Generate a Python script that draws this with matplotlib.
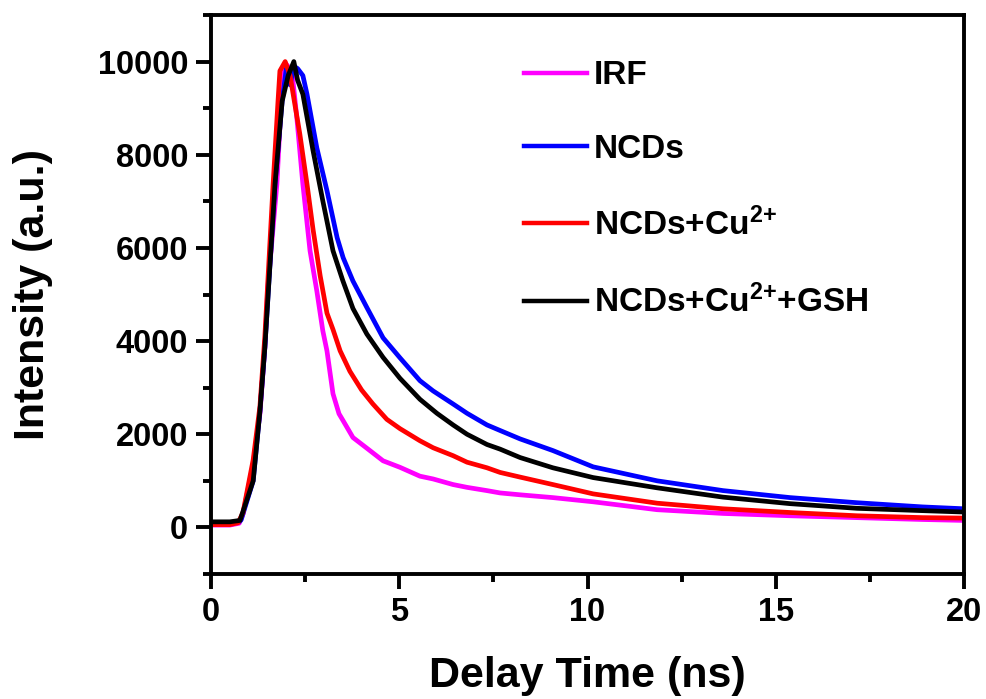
import numpy as np
import matplotlib
matplotlib.use("Agg")
import matplotlib.pyplot as plt
from matplotlib.ticker import MultipleLocator

plt.rcParams["font.family"] = ["Liberation Sans", "DejaVu Sans"]
plt.rcParams["font.weight"] = "bold"
plt.rcParams["mathtext.fontset"] = "custom"
plt.rcParams["mathtext.rm"] = "Liberation Sans:bold"
plt.rcParams["mathtext.it"] = "Liberation Sans:bold"
plt.rcParams["mathtext.bf"] = "Liberation Sans:bold"

# (delay time in ns, intensity in a.u.)
irf_t = [0.0, 0.5, 0.75, 0.85, 1.12, 1.30, 1.43, 1.51, 1.75, 1.89, 1.97, 2.15,
         2.28, 2.44, 2.63, 2.81, 2.97, 3.08, 3.24, 3.40, 3.51, 3.77, 4.14,
         4.57, 5.02, 5.55, 5.90, 6.43, 6.80, 7.33, 7.68, 8.21, 9.08, 10.15,
         11.85, 13.6, 15.38, 17.16, 18.9, 20.0]
irf_y = [50, 50, 90, 290, 1360, 2440, 3860, 5150, 7370, 9520, 9970, 9800,
         8790, 7370, 5940, 5080, 4220, 3790, 2870, 2440, 2290, 1930, 1700,
         1430, 1290, 1100, 1040, 920, 860, 790, 740, 700, 640, 550,
         380, 300, 250, 210, 170, 150]

ncd_t = [0.0, 0.5, 0.75, 0.80, 1.12, 1.30, 1.43, 1.54, 1.70, 1.89, 2.00, 2.10,
         2.20, 2.30, 2.44, 2.55, 2.81, 3.08, 3.35, 3.51, 3.77, 4.14, 4.57,
         5.02, 5.55, 5.90, 6.43, 6.80, 7.33, 7.68, 8.21, 9.08, 10.15, 11.85,
         13.6, 15.38, 17.16, 18.9, 20.0]
ncd_y = [100, 100, 120, 160, 1000, 2500, 3860, 5300, 7370, 9150, 9850, 9500,
         9900, 9850, 9700, 9300, 8150, 7230, 6220, 5790, 5290, 4720, 4070,
         3640, 3150, 2930, 2650, 2450, 2200, 2080, 1900, 1650, 1300, 1000,
         790, 640, 530, 440, 400]

cu_t = [0.0, 0.5, 0.72, 0.85, 1.12, 1.30, 1.43, 1.65, 1.78, 1.83, 1.97, 2.10,
        2.36, 2.55, 2.71, 2.90, 3.08, 3.24, 3.43, 3.69, 4.00, 4.30, 4.67, 5.02,
        5.55, 5.90, 6.43, 6.80, 7.33, 7.68, 8.21, 9.08, 10.15, 11.85, 13.6,
        15.38, 17.16, 18.9, 20.0]
cu_y = [60, 60, 100, 320, 1450, 2600, 4100, 7370, 9150, 9800, 10000, 9700,
        8440, 7370, 6400, 5400, 4600, 4250, 3790, 3350, 2950, 2650, 2320, 2120,
        1860, 1710, 1540, 1400, 1280, 1180, 1080, 920, 720, 520, 400,
        320, 250, 210, 200]

gsh_t = [0.0, 0.5, 0.77, 1.12, 1.30, 1.43, 1.54, 1.70, 1.89, 2.05, 2.20, 2.30,
         2.44, 2.71, 2.97, 3.24, 3.50, 3.77, 4.14, 4.57, 5.02, 5.55, 6.00,
         6.43, 6.80, 7.33, 7.68, 8.21, 9.08, 10.15, 11.85, 13.6, 15.38, 17.16,
         18.9, 20.0]
gsh_y = [120, 120, 150, 1000, 2500, 3860, 5300, 7370, 9150, 9700, 10000, 9600,
         9300, 8090, 7010, 5940, 5300, 4700, 4150, 3650, 3200, 2750, 2450,
         2200, 2000, 1780, 1680, 1500, 1280, 1070, 850, 650, 510, 410,
         360, 330]

series = [
    ("IRF", irf_t, irf_y, "#ff00ff"),
    ("NCDs", ncd_t, ncd_y, "#0000ff"),
    (r"NCDs+Cu$^{2{+}}$", cu_t, cu_y, "#ff0000"),
    (r"NCDs+Cu$^{2{+}}$+GSH", gsh_t, gsh_y, "#000000"),
]

fig = plt.figure(figsize=(9.87, 6.99), dpi=100)
ax = fig.add_axes([211 / 987, 125 / 699, 753 / 987, 559 / 699])

for label, t, y, color in series:
    ax.plot(t, y, color=color, lw=3.4, label=label, solid_joinstyle="round")

ax.set_xlim(0, 20)
ax.set_ylim(-1000, 11000)
ax.xaxis.set_major_locator(MultipleLocator(5))
ax.xaxis.set_minor_locator(MultipleLocator(2.5))
ax.yaxis.set_major_locator(MultipleLocator(2000))
ax.yaxis.set_minor_locator(MultipleLocator(1000))
ax.set_yticks([0, 2000, 4000, 6000, 8000, 10000])

for side in ax.spines.values():
    side.set_linewidth(2.8)
ax.tick_params(which="major", direction="out", length=10.5, width=2.8,
               labelsize=23.5, pad=6)
ax.tick_params(which="minor", direction="out", length=6, width=2.8)
ax.tick_params(axis="x", which="major", pad=6)

ax.set_xlabel("Delay Time (ns)", fontsize=31, fontweight="bold", labelpad=20)
ax.set_ylabel("Intensity (a.u.)", fontsize=31, fontweight="bold", labelpad=32)

leg = ax.legend(loc="upper left", bbox_to_anchor=(0.398, 0.943), frameon=False,
                fontsize=24, handlelength=1.9, handletextpad=0.2,
                labelspacing=1.28, borderaxespad=0)
for h in leg.get_lines():
    h.set_linewidth(3.2)

fig.savefig("out.png", dpi=100)
